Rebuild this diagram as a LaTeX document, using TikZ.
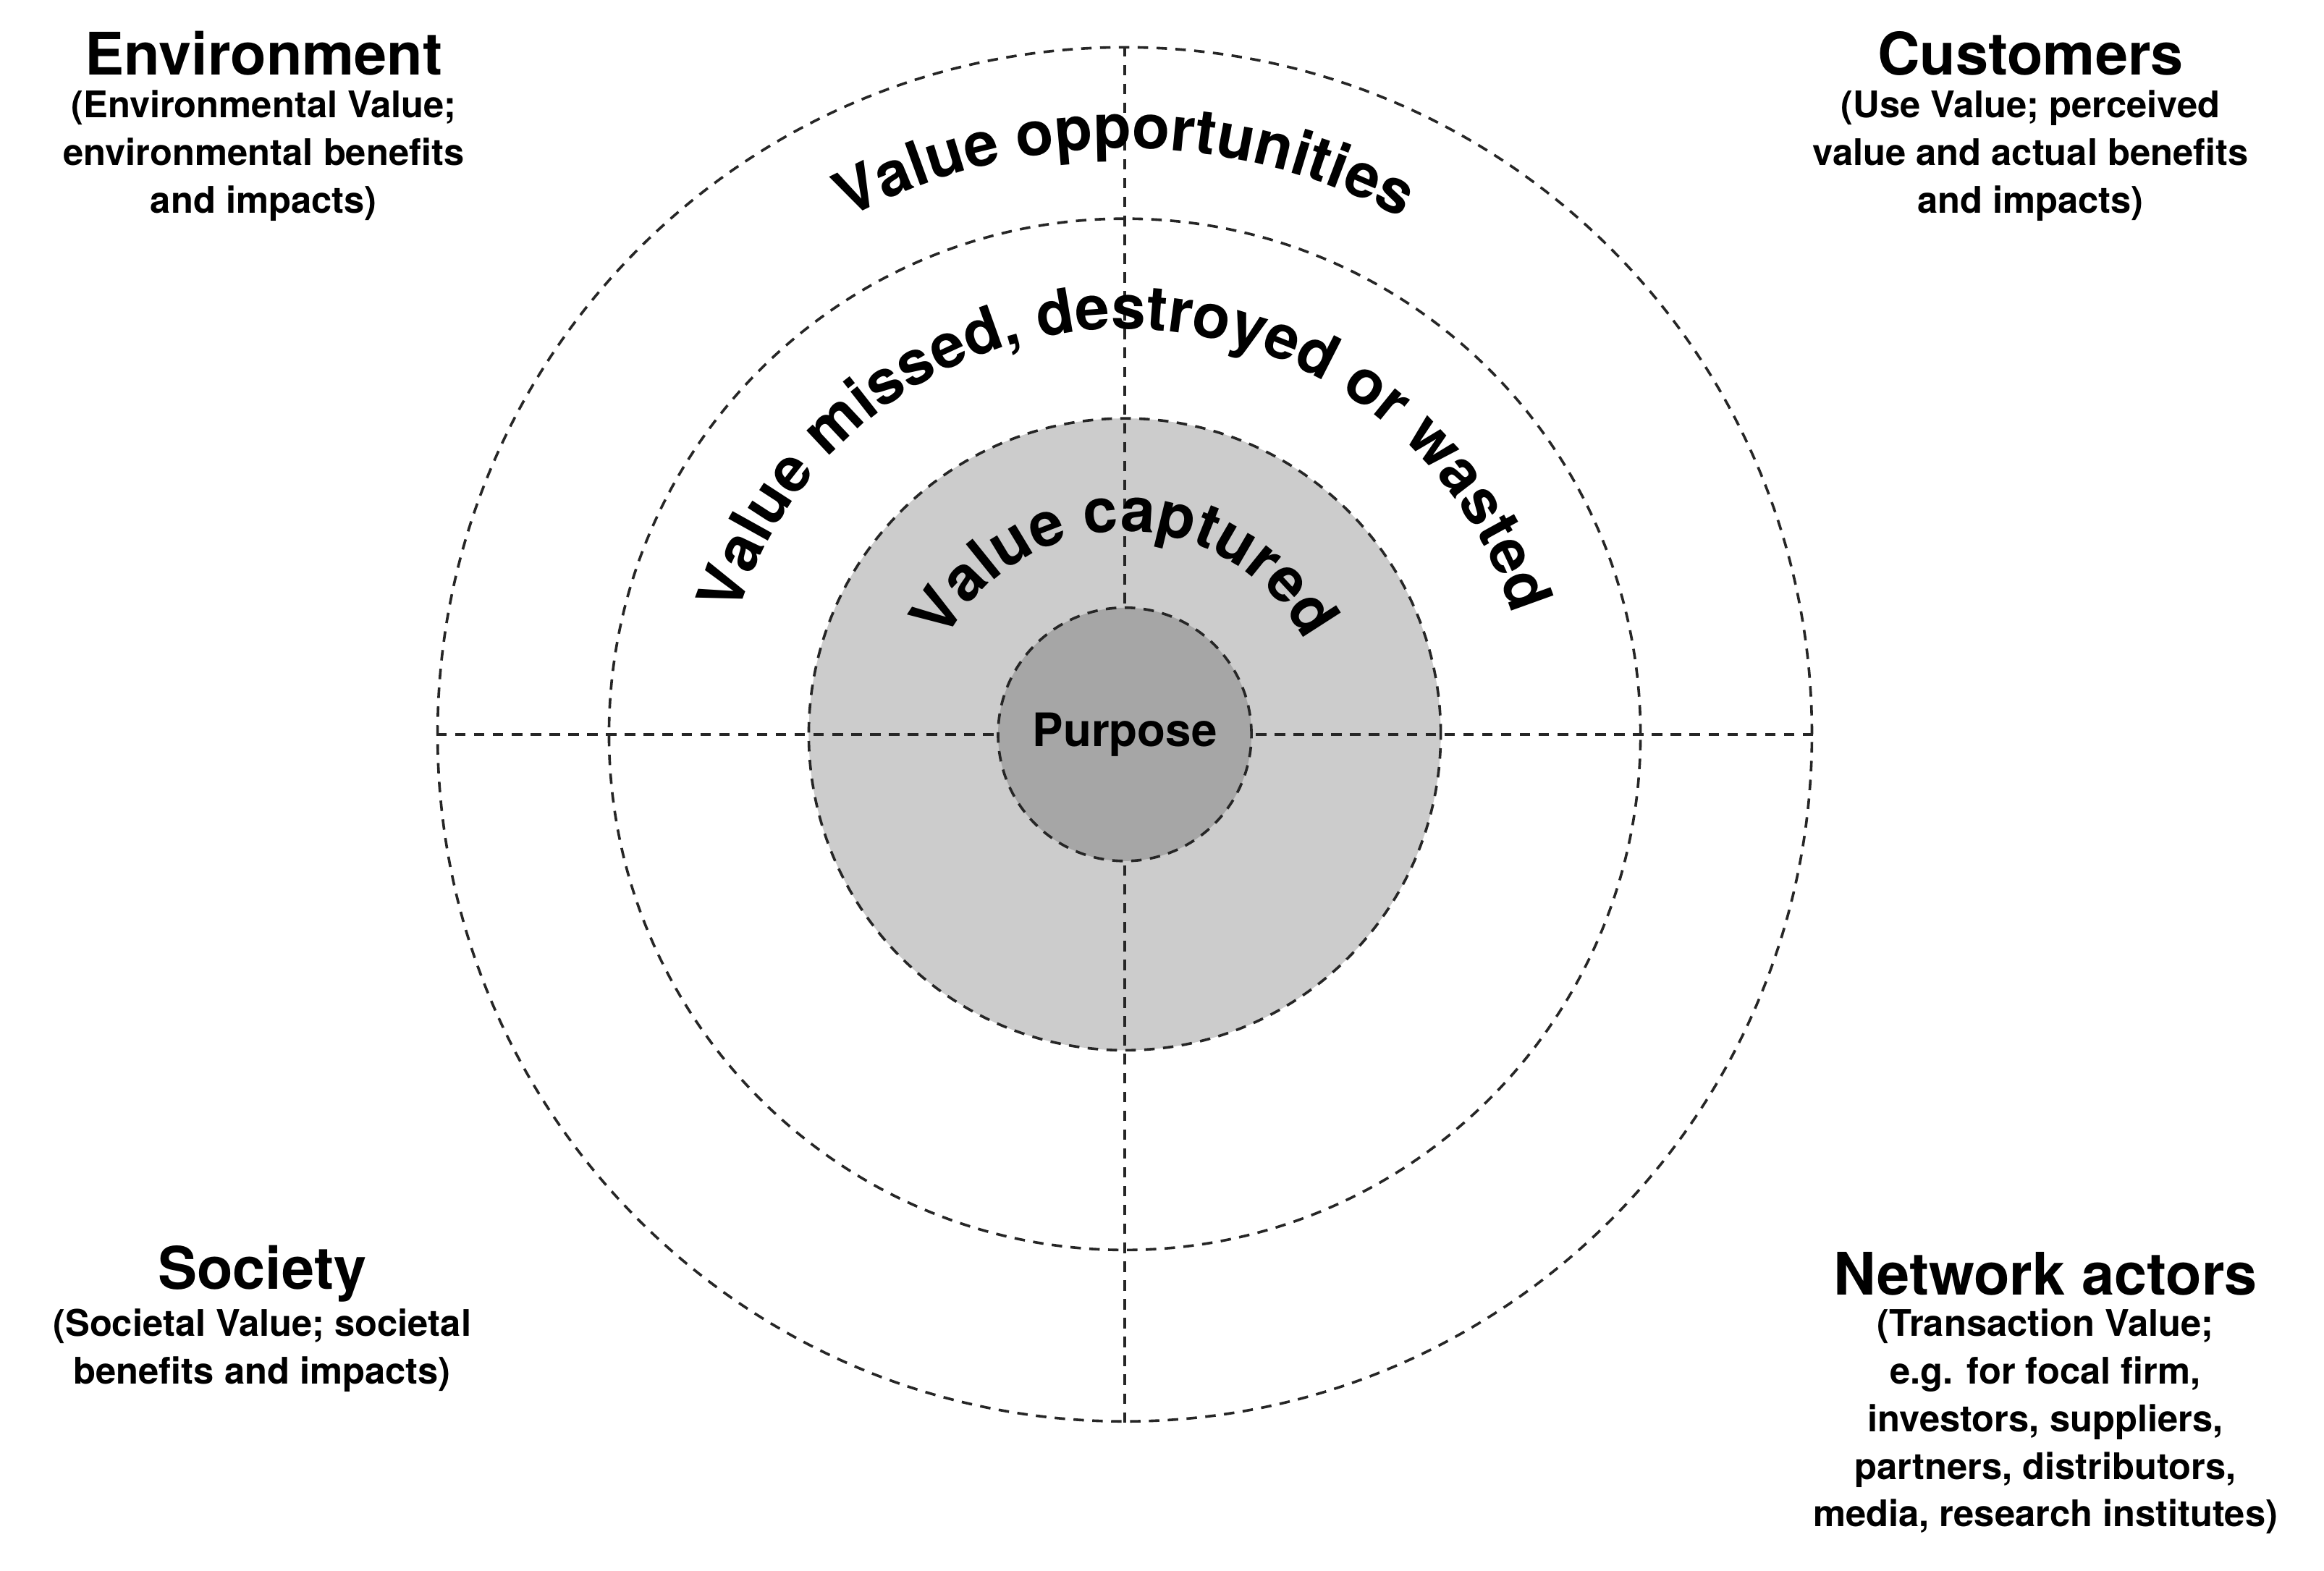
\documentclass[tikz,border=0pt]{standalone}
\usepackage{fontspec}
\setmainfont{TeX Gyre Heros}
\usetikzlibrary{decorations.text}
\begin{document}
\begin{tikzpicture}[x=0.01cm,y=-0.01cm,
  dsh/.style={draw=black!85,line width=0.5pt,dash pattern=on 2pt off 1.6pt},
  ring/.style={circle,dsh,inner sep=0pt},
  arct/.style={decorate,decoration={text along path,text align=center,
    text={|\bfseries\fontsize{11.8}{14}\selectfont|#1}}},
  head/.style={font=\bfseries\fontsize{11.2}{13}\selectfont,align=center},
  sub/.style={font=\bfseries\fontsize{7}{9.1}\selectfont,align=center,anchor=north,inner sep=0pt}]
\useasboundingbox (0,0) rectangle (1560,1054.7);
\coordinate (c) at (755,493);
\node[ring,minimum size=9.22cm] (outer) at (c) {};
\node[ring,minimum size=6.92cm] (mid) at (c) {};
\node[ring,fill=black!20,minimum size=4.24cm] (cap) at (c) {};
\node[ring,fill=black!35,minimum size=1.70cm] (pur) at (c) {};
\node[font=\bfseries\fontsize{8.8}{10}\selectfont] (purt) at (c) {Purpose};
\draw[dsh] (outer.north) -- (pur.north);
\draw[dsh] (outer.south) -- (pur.south);
\draw[dsh] (outer.west) -- (pur.west);
\draw[dsh] (outer.east) -- (pur.east);
\begin{scope}[shift={(c)},x=1cm,y=1cm]
\path[arct={Value opportunities}] (150:3.93) arc[start angle=150,end angle=30,radius=3.93];
\path[arct={Value missed, destroyed or wasted}] (170:2.72) arc[start angle=170,end angle=10,radius=2.72];
\path[arct={Value captured}] (175:1.36) arc[start angle=175,end angle=5,radius=1.36];
\end{scope}
\node[head] (env) at (177,36) {Environment};
\node[sub] (envs) at (177,60) {(Environmental Value;\\environmental benefits\\and impacts)};
\node[head] (cus) at (1363,36) {Customers};
\node[sub] (cuss) at (1363,60) {(Use Value; perceived\\value and actual benefits\\and impacts)};
\node[head] (soc) at (176,855) {Society};
\node[sub] (socs) at (176,878) {(Societal Value; societal\\benefits and impacts)};
\node[head] (net) at (1373,855) {Network actors};
\node[sub] (nets) at (1373,878) {(Transaction Value;\\e.g. for focal firm,\\investors, suppliers,\\partners, distributors,\\media, research institutes)};
\end{tikzpicture}
\end{document}
